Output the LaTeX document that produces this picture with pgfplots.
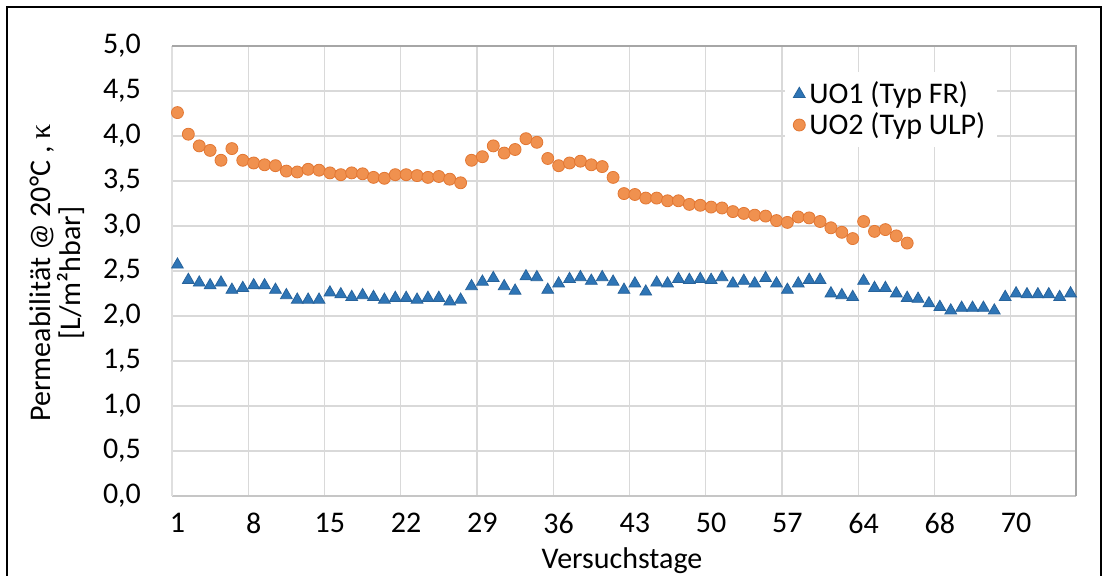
\documentclass[border=0pt]{standalone}
\usepackage{pgfplots}
\pgfplotsset{compat=1.18}
\usepackage{fontspec}
\setmainfont{Carlito}
\newfontfamily\kfont{Liberation Serif}

\definecolor{uoblue}{HTML}{2E75B6}
\definecolor{uoorange}{HTML}{F0914F}
\definecolor{uoorangedk}{HTML}{E27733}
\definecolor{gridgray}{HTML}{D9D9D9}

% UO1 (Typ FR): running index of the measurement, permeability
\pgfplotstableread{
i  k
0  2.57
1  2.40
2  2.37
3  2.34
4  2.37
5  2.29
6  2.31
7  2.34
8  2.34
9  2.29
10 2.23
11 2.18
12 2.18
13 2.18
14 2.26
15 2.24
16 2.21
17 2.23
18 2.21
19 2.18
20 2.20
21 2.20
22 2.18
23 2.20
24 2.20
25 2.16
26 2.18
27 2.33
28 2.38
29 2.42
30 2.33
31 2.28
32 2.44
33 2.43
34 2.29
35 2.36
36 2.41
37 2.43
38 2.39
39 2.43
40 2.38
41 2.29
42 2.36
43 2.27
44 2.37
45 2.36
46 2.41
47 2.40
48 2.41
49 2.40
50 2.43
51 2.36
52 2.39
53 2.36
54 2.42
55 2.36
56 2.29
57 2.36
58 2.40
59 2.40
60 2.25
61 2.23
62 2.21
63 2.39
64 2.31
65 2.31
66 2.25
67 2.20
68 2.19
69 2.14
70 2.10
71 2.06
72 2.09
73 2.09
74 2.09
75 2.06
76 2.21
77 2.25
78 2.24
79 2.24
80 2.24
81 2.21
82 2.25
}\uoeins

% UO2 (Typ ULP)
\pgfplotstableread{
i  k
0  4.26
1  4.02
2  3.89
3  3.84
4  3.73
5  3.86
6  3.73
7  3.70
8  3.68
9  3.67
10 3.61
11 3.60
12 3.63
13 3.62
14 3.59
15 3.57
16 3.59
17 3.58
18 3.54
19 3.53
20 3.57
21 3.57
22 3.56
23 3.54
24 3.55
25 3.52
26 3.48
27 3.73
28 3.77
29 3.89
30 3.81
31 3.85
32 3.97
33 3.93
34 3.75
35 3.67
36 3.70
37 3.72
38 3.68
39 3.66
40 3.54
41 3.36
42 3.35
43 3.31
44 3.31
45 3.28
46 3.28
47 3.24
48 3.23
49 3.21
50 3.20
51 3.16
52 3.14
53 3.12
54 3.11
55 3.06
56 3.04
57 3.10
58 3.09
59 3.05
60 2.98
61 2.93
62 2.86
63 3.05
64 2.94
65 2.96
66 2.89
67 2.81
}\uozwei

\begin{document}
\begin{tikzpicture}[font=\fontsize{15}{18}\selectfont]
\useasboundingbox (0,0) rectangle (554.5pt,288pt);
% outer frame
\draw[line width=1.2pt] (3.5pt,0) -- (3.5pt,284.5pt) -- (550.5pt,284.5pt) -- (550.5pt,0);

\begin{axis}[
  at={(86pt,40pt)}, anchor=south west,
  scale only axis, width=452pt, height=225pt,
  xmin=-0.5, xmax=82.5, ymin=0, ymax=5,
  xtick={0,7,14,21,28,35,42,49,56,63,70,77},
  xticklabels={1,8,15,22,29,36,43,50,57,64,68,70},
  minor xtick={6.5,13.5,20.5,27.5,34.5,41.5,48.5,55.5,62.5,69.5,76.5},
  ytick={0,0.5,1,1.5,2,2.5,3,3.5,4,4.5,5},
  xminorgrids, ymajorgrids,
  minor grid style={gridgray, line width=0.6pt},
  major grid style={gridgray, line width=0.6pt},
  major tick length=0pt, minor tick length=0pt,
  axis line style={draw=none},
  /pgf/number format/assume math mode=true,
  y tick label style={/pgf/number format/.cd, fixed, fixed zerofill, precision=1, use comma, /tikz/.cd, xshift=-12pt},
  x tick label style={yshift=-5pt},
  legend style={at={(0.678,0.944)}, anchor=north west, draw=none, fill=white,
    inner xsep=4pt, inner ysep=3pt, row sep=-1pt, font=\fontsize{15}{18}\selectfont},
  legend cell align=left,
  clip=false,
]
\draw[gray!45, line width=0.6pt] (rel axis cs:0,0) -- (rel axis cs:1,0);
\draw[gray!25, line width=0.6pt] (rel axis cs:0,0) -- (rel axis cs:0,1);
\draw[gray!70, line width=0.7pt] (rel axis cs:0,1) -- (rel axis cs:1,1) -- (rel axis cs:1,0);
\addplot[only marks, mark=triangle*, mark size=3.4pt, color=uoblue, mark options={fill=uoblue, draw=uoblue!85!black}]
  table[x=i, y=k] {\uoeins};
\addlegendentry{UO1 (Typ FR)}
\addplot[only marks, mark=*, mark size=3pt, color=uoorange, mark options={fill=uoorange, draw=uoorangedk}]
  table[x=i, y=k] {\uozwei};
\addlegendentry{UO2 (Typ ULP)}
\end{axis}

\node[rotate=90, align=center, font=\fontsize{15}{15}\selectfont] at (28.5pt,151.5pt)
  {Permeabilität @ 20°C , {\kfont κ}\\{}{[L/m²hbar]}};
\node at (311pt,7.5pt) {Versuchstage};
\end{tikzpicture}
\end{document}
